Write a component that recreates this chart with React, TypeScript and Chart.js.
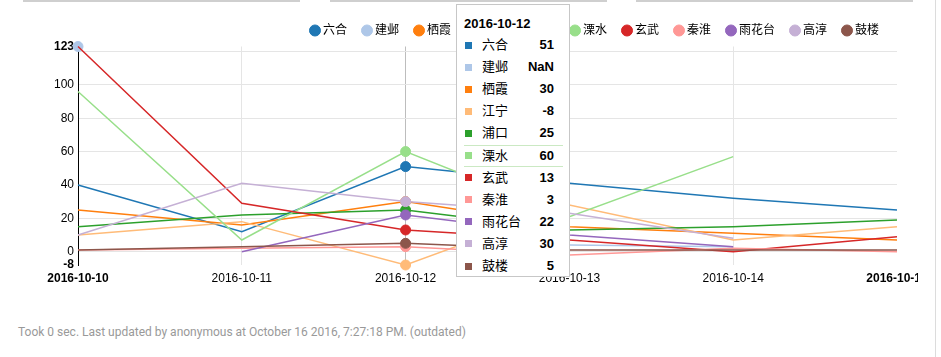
import React, { useEffect, useRef } from 'react';
import { Chart, registerables } from 'chart.js';

Chart.register(...registerables);

const categories = ['2016-10-10', '2016-10-11', '2016-10-12', '2016-10-13', '2016-10-14', '2016-10-15'];
const seriesNames = ['六合', '建邺', '栖霞', '江宁', '浦口', '溧水', '玄武', '秦淮', '雨花台', '高淳', '鼓楼'];
const seriesColors = ['#1f77b4', '#aec7e8', '#ff7f0e', '#ffbb78', '#2ca02c', '#98df8a', '#d62728', '#ff9896', '#9467bd', '#c5b0d5', '#8c564b'];

const liuhe = [40, 12, 51, 41, 32, 25];
const jianye = [123, null, null, 4, 3, null];
const qixia = [25, 16, 30, 15, 11, 7];
const jiangning = [10, 18, -8, 28, 7, 15];
const pukou = [15, 22, 25, 13, 15, 19];
const lishui = [96, 7, 60, 21, 57, null];
const xuanwu = [123, 29, 13, 7, 0, 9];
const qinhuai = [1, 2, 3, -2, 2, 0];
const yuhuatai = [null, 0, 22, 10, 3, null];
const gaochun = [10, 41, 30, 23, 8, null];
const gulou = [1, 3, 5, 1, 1, 1];

const seriesValues: (number | null)[][] = [liuhe, jianye, qixia, jiangning, pukou, lishui, xuanwu, qinhuai, yuhuatai, gaochun, gulou];

const yTicks = [-8, 0, 20, 40, 60, 80, 100, 120, 123];
const yMin = -8;
const yMax = 123;
const hoverIndex = 2;
const highlightSeries = 5;
const footerText = 'Took 0 sec. Last updated by anonymous at October 16 2016, 7:27:18 PM. (outdated)';

const FONT = '"Liberation Sans", Arial, "Noto Sans CJK SC", sans-serif';

export default function App() {
  const canvasRef = useRef<HTMLCanvasElement>(null);

  useEffect(() => {
    document.body.style.margin = '0';
    const canvas = canvasRef.current!;
    const chart = new Chart(canvas, {
      type: 'line',
      data: {
        labels: categories,
        datasets: seriesNames.map((name, i) => ({
          label: name,
          data: seriesValues[i],
          borderColor: seriesColors[i],
          backgroundColor: seriesColors[i],
          pointBackgroundColor: seriesColors[i],
          pointBorderColor: seriesColors[i],
          pointBorderWidth: 1,
          borderWidth: 1.5,
          tension: 0,
          spanGaps: false,
          clip: false as any,
          order: -i,
          pointRadius: (ctx: any) => {
            const d = seriesValues[i];
            const k = ctx.dataIndex;
            if (d[k] == null) return 0;
            if (k === hoverIndex) return 5;
            const isolated = (k === 0 || d[k - 1] == null) && (k === d.length - 1 || d[k + 1] == null);
            return isolated ? 5 : 0;
          },
        })),
      },
      options: {
        animation: false,
        responsive: false,
        events: [],
        layout: { autoPadding: false, padding: { left: 0, right: 21, top: 6.5, bottom: 0 } },
        plugins: {
          legend: {
            position: 'top',
            align: 'end',
            labels: {
              usePointStyle: true,
              pointStyle: 'circle',
              boxWidth: 4,
              boxHeight: 7.8,
              padding: 18,
              color: '#000',
              font: { family: FONT, size: 12 },
              sort: (a: any, b: any) => a.datasetIndex - b.datasetIndex,
            },
          },
          tooltip: { enabled: false },
        },
        scales: {
          x: {
            offset: false,
            afterFit: (scale: any) => {
              scale.height = 35;
              scale.paddingLeft = 0;
              scale.paddingRight = 0;
            },
            border: { display: false },
            grid: {
              drawTicks: false,
              offset: false,
              lineWidth: 1,
              color: (ctx: any) => ctx.index === hoverIndex ? '#bdbdbd' : (ctx.index === categories.length - 1 ? 'rgba(0,0,0,0)' : '#e5e5e5'),
            },
            ticks: {
              padding: 6,
              maxRotation: 0,
              autoSkip: false,
              color: '#000',
              font: (ctx: any) => ({ family: FONT, size: 12, weight: (ctx.index === 0 || ctx.index === categories.length - 1) ? 'bold' : 'normal' }),
            },
          },
          y: {
            min: yMin,
            max: yMax,
            afterBuildTicks: (scale: any) => { scale.ticks = yTicks.map((v) => ({ value: v })); },
            afterFit: (scale: any) => {
              scale.width = 78;
              scale.paddingTop = 0;
              scale.paddingBottom = 0;
            },
            border: { display: true, color: '#000', width: 1 },
            grid: {
              drawTicks: false,
              lineWidth: 1,
              color: (ctx: any) => (ctx.tick && (ctx.tick.value === yMin || ctx.tick.value === yMax)) ? 'rgba(0,0,0,0)' : '#e5e5e5',
            },
            ticks: {
              padding: 4,
              autoSkip: false,
              color: '#000',
              callback: (v: any) => (v === 120 ? '' : String(v)),
              font: (ctx: any) => ({ family: FONT, size: 12, weight: (ctx.tick && (ctx.tick.value === yMin || ctx.tick.value === yMax)) ? 'bold' : 'normal' }),
            },
          },
        },
      },
    });
    return () => chart.destroy();
  }, []);

  const rowTop = (i: number) => 29 + 22.1 * i;

  return (
    <div style={{ position: 'relative', width: 941, height: 357, overflow: 'hidden', background: '#fff' }}>
      <div style={{ position: 'absolute', left: 23, top: 0, width: 277, height: 2, background: '#cfcfcf' }} />
      <div style={{ position: 'absolute', left: 330, top: 0, width: 277, height: 2, background: '#cfcfcf' }} />
      <div style={{ position: 'absolute', left: 636, top: 0, width: 277, height: 2, background: '#cfcfcf' }} />
      <div style={{ position: 'absolute', left: 935, top: 0, width: 1, height: 357, background: '#dcdcdc' }} />
      <canvas ref={canvasRef} width={918} height={300} style={{ position: 'absolute', left: 0, top: 0, width: 918, height: 300 }} />
      <div style={{ position: 'absolute', left: 456, top: 4, width: 114, height: 273, boxSizing: 'border-box', background: '#fff', border: '1px solid rgba(0,0,0,0.22)', fontFamily: FONT, color: '#000' }}>
        <div style={{ position: 'absolute', left: 7, top: 7.7, height: 22, lineHeight: '22px', fontSize: 13, fontWeight: 'bold' }}>{categories[hoverIndex]}</div>
        {seriesNames.map((name, i) => {
          const v = seriesValues[i][hoverIndex];
          const hl = i === highlightSeries;
          return (
            <div key={name} style={{ position: 'absolute', left: 0, top: rowTop(i), width: 112, height: 22 }}>
              {hl && <div style={{ position: 'absolute', left: 7, right: 6, top: 0, height: 1, background: '#cbe9c3' }} />}
              {hl && <div style={{ position: 'absolute', left: 7, right: 6, top: 21, height: 1, background: '#cbe9c3' }} />}
              <div style={{ position: 'absolute', left: 8, top: 7.5, width: 7, height: 7, background: seriesColors[i] }} />
              <div style={{ position: 'absolute', left: 25, top: 0, lineHeight: '22px', fontSize: 13 }}>{name}</div>
              <div style={{ position: 'absolute', right: 15, top: 0, lineHeight: '22px', fontSize: 13, fontWeight: 'bold' }}>{v == null ? 'NaN' : String(v)}</div>
            </div>
          );
        })}
      </div>
      <div style={{ position: 'absolute', left: 18, top: 325, fontFamily: 'Roboto, sans-serif', fontSize: 12, color: '#999', whiteSpace: 'nowrap' }}>{footerText}</div>
    </div>
  );
}
